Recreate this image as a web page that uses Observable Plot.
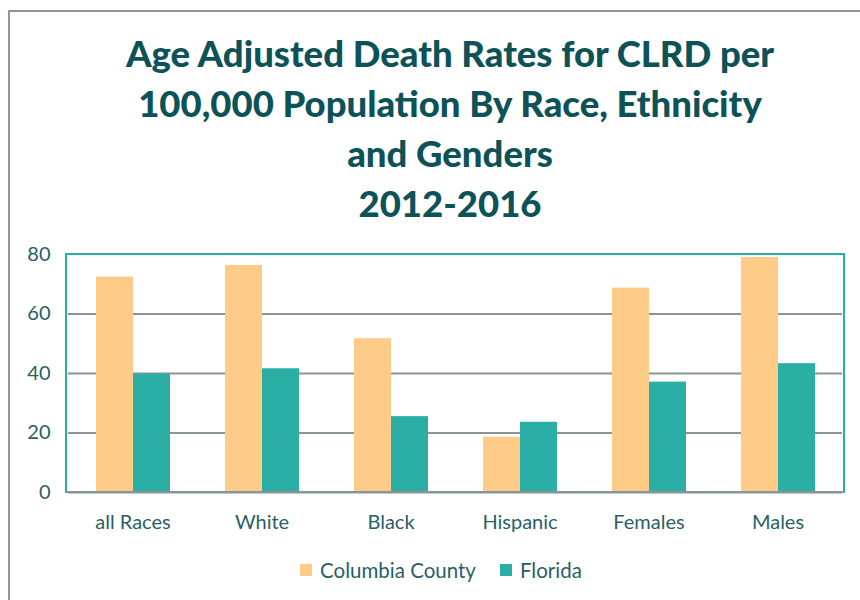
<!DOCTYPE html>
<html>
<head>
<meta charset="utf-8">
<script src="https://cdn.jsdelivr.net/npm/d3@7"></script>
<script src="https://cdn.jsdelivr.net/npm/@observablehq/plot@0.6"></script>
<style>
  html, body { margin: 0; padding: 0; background: #fff; }
  #wrap { position: relative; width: 860px; height: 600px; overflow: hidden; font-family: Lato, "Open Sans", sans-serif; }
  #border { position: absolute; left: 8px; top: 10px; width: 900px; height: 700px; border: 2px solid #8c9a9e; box-sizing: border-box; }
  #title { position: absolute; left: 0; top: 28px; width: 900px; text-align: center; color: #0d5257; font-weight: 900; font-size: 36.5px; line-height: 50px; }
  #chart { position: absolute; left: 0; top: 235px; }
  #legend { position: absolute; left: 11px; top: 556px; width: 860px; text-align: center; font-size: 20.5px; color: #2a5f66; }
  .item { display: inline-flex; align-items: center; margin: 0 12px; }
  .sw { width: 12px; height: 12px; display: inline-block; margin-right: 8px; }
</style>
</head>
<body>
<div id="wrap">
  <div id="border"></div>
  <div id="title">Age Adjusted Death Rates for CLRD per<br>100,000 Population By Race, Ethnicity<br>and Genders<br>2012-2016</div>
  <div id="chart"></div>
  <div id="legend"></div>
</div>
<script>
const categories = ["all Races", "White", "Black", "Hispanic", "Females", "Males"];
const seriesNames = ["Columbia County", "Florida"];
const columbia = [72.4, 76.3, 51.7, 18.6, 68.7, 79.0];
const florida = [39.8, 41.6, 25.5, 23.6, 37.1, 43.3];
const yTicks = [0, 20, 40, 60, 80];
const colors = ["#fecb89", "#2bafa4"];

const data = [];
categories.forEach((c, i) => {
  data.push({category: c, series: seriesNames[0], value: columbia[i]});
  data.push({category: c, series: seriesNames[1], value: florida[i]});
});

const plot = Plot.plot({
  width: 860,
  height: 310,
  marginTop: 19,
  marginBottom: 53,
  marginLeft: 66,
  marginRight: 16,
  style: {fontFamily: "Lato, 'Open Sans', sans-serif", fontSize: "20px", color: "#2a5f66", background: "transparent"},
  fx: {domain: categories, padding: 0, label: null, axis: "bottom", tickSize: 0, tickPadding: 22},
  x: {domain: seriesNames, paddingInner: 0, paddingOuter: 0.72, axis: null},
  y: {domain: [0, 80], ticks: yTicks, label: null, tickSize: 0, tickPadding: 18},
  color: {domain: seriesNames, range: colors},
  marks: [
    Plot.ruleY(yTicks.filter(d => d > 0 && d < 80), {stroke: "#8a9598", strokeWidth: 2, strokeOpacity: 1, facetAnchor: null}),
    Plot.barY(data, {fx: "category", x: "series", y: "value", fill: "series"}),
    Plot.ruleY([0], {stroke: "#8a9598", strokeWidth: 2}),
  ]
});
document.getElementById("chart").appendChild(plot);

const svg = d3.select(plot);
svg.append("rect")
  .attr("x", 66).attr("y", 19).attr("width", 860 - 66 - 16).attr("height", 310 - 19 - 53)
  .attr("fill", "none").attr("stroke", "#2bafa4").attr("stroke-width", 2);
svg.append("line").attr("x1", 66).attr("x2", 844).attr("y1", 257).attr("y2", 257).attr("stroke", "#8a9598").attr("stroke-width", 2);

const legend = document.getElementById("legend");
seriesNames.forEach((s, i) => {
  const it = document.createElement("span");
  it.className = "item";
  it.innerHTML = `<span class="sw" style="background:${colors[i]}"></span>${s}`;
  legend.appendChild(it);
});
</script>
</body>
</html>
